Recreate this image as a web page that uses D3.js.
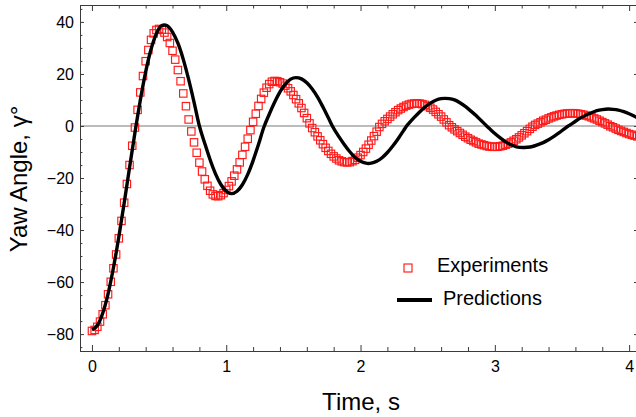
<!DOCTYPE html>
<html>
<head>
<meta charset="utf-8">
<script src="https://cdn.jsdelivr.net/npm/d3@7"></script>
<style>
  html, body { margin: 0; padding: 0; background: #fff; }
  svg { display: block; font-family: "Liberation Sans", Arial, Helvetica, sans-serif; }
</style>
</head>
<body>
<svg id="chart" width="636" height="417"></svg>
<script>
// Measured yaw response, sampled every 0.02 s from t = 0
const expStep = 0.02;
const expYaw = [
  -78.8, -78.4, -77.2, -75.2, -72.4, -68.9, -64.7, -59.9, -54.7, -49.4,
  -43.2, -36.5, -29.5, -22.3, -15.0, -7.6, -0.6, 6.2, 12.9, 19.2,
  24.9, 29.2, 33.1, 35.6, 36.9, 37.3, 37.0, 35.9, 34.2, 31.9,
  28.9, 25.5, 21.5, 17.2, 12.5, 7.6, 2.5, -2.1, -6.3, -10.3,
  -14.1, -17.5, -20.5, -23.0, -24.9, -26.3, -26.9, -27.0, -26.6, -25.8,
  -24.6, -23.1, -21.3, -19.1, -16.7, -14.0, -11.1, -8.0, -4.9, -1.6,
  1.6, 4.7, 7.7, 10.4, 12.8, 14.7, 16.1, 17.0, 17.3, 17.2,
  16.8, 16.3, 15.5, 14.5, 13.3, 11.9, 10.3, 8.7, 6.9, 5.0,
  3.0, 1.0, -0.8, -2.4, -4.0, -5.5, -7.0, -8.4, -9.6, -10.7,
  -11.7, -12.5, -13.2, -13.6, -13.9, -14.0, -13.9, -13.5, -13.0, -12.2,
  -11.2, -10.0, -8.7, -7.2, -5.6, -3.9, -2.2, -0.4, 0.8, 1.8,
  2.7, 3.6, 4.5, 5.3, 6.1, 6.7, 7.3, 7.8, 8.2, 8.5,
  8.6, 8.7, 8.6, 8.4, 8.1, 7.6, 7.0, 6.3, 5.4, 4.5,
  3.6, 2.5, 1.4, 0.3, -0.5, -1.3, -2.0, -2.7, -3.4, -4.1,
  -4.7, -5.3, -5.8, -6.3, -6.8, -7.1, -7.4, -7.7, -7.9, -8.0,
  -8.0, -8.0, -7.8, -7.6, -7.2, -6.8, -6.3, -5.7, -5.1, -4.4,
  -3.6, -2.8, -2.0, -1.1, -0.3, 0.4, 0.9, 1.4, 2.0, 2.4,
  2.9, 3.3, 3.7, 4.0, 4.3, 4.5, 4.7, 4.8, 4.9, 4.9,
  4.8, 4.7, 4.5, 4.3, 4.0, 3.7, 3.3, 2.9, 2.5, 2.0,
  1.5, 1.0, 0.5, -0.1, -0.5, -1.0, -1.5, -1.9, -2.3, -2.7,
  -3.1, -3.4, -3.7, -4.0
];

// Predicted yaw response (time in s, angle in degrees)
const predTime = [
  0, 0.04, 0.08, 0.12, 0.16, 0.20, 0.24, 0.28, 0.32, 0.36,
  0.40, 0.44, 0.48, 0.52, 0.538, 0.56, 0.60, 0.64, 0.68, 0.72,
  0.76, 0.80, 0.84, 0.88, 0.92, 0.96, 1.00, 1.04, 1.08, 1.12,
  1.16, 1.20, 1.24, 1.28, 1.32, 1.36, 1.40, 1.44, 1.48, 1.519,
  1.56, 1.60, 1.64, 1.68, 1.72, 1.76, 1.79, 1.84, 1.88, 1.92,
  1.96, 2.00, 2.04, 2.058, 2.08, 2.12, 2.16, 2.20, 2.24, 2.28,
  2.32, 2.343, 2.36, 2.40, 2.44, 2.48, 2.52, 2.56, 2.60, 2.628,
  2.66, 2.70, 2.74, 2.78, 2.82, 2.86, 2.90, 2.939, 2.96, 3.00,
  3.04, 3.08, 3.12, 3.16, 3.21, 3.24, 3.28, 3.32, 3.36, 3.40,
  3.44, 3.48, 3.52, 3.547, 3.56, 3.60, 3.64, 3.68, 3.72, 3.76,
  3.80, 3.845, 3.88, 3.92, 3.96, 4.00, 4.04, 4.08
];
const predYaw = [
  -78.3, -76.7, -72.0, -64.5, -54.5, -42.7, -29.6, -16.0, -2.6, 9.9,
  20.8, 29.5, 35.5, 38.6, 38.8, 38.5, 36.1, 31.8, 25.6, 17.9,
  9.2, 0.0, -6.7, -13.0, -18.4, -22.5, -25.1, -26.0, -25.1, -22.6,
  -18.6, -13.3, -7.1, -0.5, 4.5, 9.1, 13.1, 16.1, 18.0, 18.6,
  18.1, 16.6, 14.2, 11.1, 7.3, 3.2, 0.0, -4.2, -7.2, -9.9,
  -12.1, -13.6, -14.3, -14.4, -14.3, -13.6, -12.2, -10.2, -7.7, -4.9,
  -1.8, 0.0, 1.0, 3.3, 5.4, 7.3, 8.8, 9.9, 10.5, 10.6,
  10.5, 10.0, 8.9, 7.5, 5.8, 4.0, 2.0, 0.0, -1.0, -2.9,
  -4.6, -6.1, -7.2, -8.0, -8.3, -8.2, -7.9, -7.2, -6.4, -5.3,
  -4.0, -2.6, -1.0, 0.0, 0.4, 1.8, 3.1, 4.2, 5.1, 5.9,
  6.3, 6.5, 6.4, 6.1, 5.5, 4.7, 3.7, 2.6
];

// Tick values
const xMajorTicks = [0, 1, 2, 3, 4];
const xMinorTicks = [0.2, 0.4, 0.6, 0.8, 1.2, 1.4, 1.6, 1.8, 2.2, 2.4, 2.6, 2.8, 3.2, 3.4, 3.6, 3.8];
const yMajorTicks = [-80, -60, -40, -20, 0, 20, 40];
const yMinorTicks = [-85, -75, -70, -65, -55, -50, -45, -35, -30, -25, -15, -10, -5, 5, 10, 15, 25, 30, 35, 45];

const legendLabels = ["Experiments", "Predictions"];

const svg = d3.select("#chart");
const frame = { left: 80, right: 638, top: 5, bottom: 351 };
const frameColor = "#3a3a3a";

const x = d3.scaleLinear().domain([-0.089, 4.066]).range([frame.left, frame.right]);
const y = d3.scaleLinear().domain([-86.5, 46.5]).range([frame.bottom, frame.top]);

svg.append("rect").attr("width", 636).attr("height", 417).attr("fill", "#fff");

svg.append("defs").append("clipPath").attr("id", "plot-clip")
  .append("rect")
  .attr("x", frame.left).attr("y", frame.top)
  .attr("width", frame.right - frame.left).attr("height", frame.bottom - frame.top);

const plot = svg.append("g").attr("clip-path", "url(#plot-clip)");

// zero reference line
plot.append("line")
  .attr("x1", frame.left).attr("x2", frame.right)
  .attr("y1", y(0)).attr("y2", y(0))
  .attr("stroke", "#7a7a7a").attr("stroke-width", 1.1);

// experimental samples as open squares
const sq = 7.4;
plot.append("g")
  .selectAll("rect")
  .data(expYaw)
  .join("rect")
  .attr("x", (d, i) => x(i * expStep) - sq / 2)
  .attr("y", d => y(d) - sq / 2)
  .attr("width", sq).attr("height", sq)
  .attr("fill", "none")
  .attr("stroke", "#ff1a1a")
  .attr("stroke-width", 1.15);

// prediction curve
const line = d3.line()
  .x(d => x(d[0]))
  .y(d => y(d[1]))
  .curve(d3.curveMonotoneX);

plot.append("path")
  .datum(d3.zip(predTime, predYaw))
  .attr("d", line)
  .attr("fill", "none")
  .attr("stroke", "#000")
  .attr("stroke-width", 3.4)
  .attr("stroke-linejoin", "round");

// frame ticks
function styleAxis(g, showText) {
  g.select(".domain").remove();
  g.attr("color", frameColor);
  g.selectAll(".tick line").attr("stroke-width", 1);
  g.selectAll("text")
    .attr("fill", "#000")
    .attr("font-size", 16)
    .attr("font-family", "'Liberation Sans', Arial, sans-serif");
  if (!showText) g.selectAll("text").remove();
}

svg.append("g")
  .attr("transform", `translate(0,${frame.bottom})`)
  .call(d3.axisBottom(x).tickValues(xMajorTicks).tickSize(-6).tickPadding(10).tickFormat(d3.format("d")))
  .call(g => styleAxis(g, true));
svg.append("g")
  .attr("transform", `translate(0,${frame.bottom})`)
  .call(d3.axisBottom(x).tickValues(xMinorTicks).tickSize(-4))
  .call(g => styleAxis(g, false));
svg.append("g")
  .attr("transform", `translate(0,${frame.top})`)
  .call(d3.axisTop(x).tickValues(xMajorTicks).tickSize(-6))
  .call(g => styleAxis(g, false));
svg.append("g")
  .attr("transform", `translate(0,${frame.top})`)
  .call(d3.axisTop(x).tickValues(xMinorTicks).tickSize(-3.5))
  .call(g => styleAxis(g, false));

svg.append("g")
  .attr("transform", `translate(${frame.left},0)`)
  .call(d3.axisLeft(y).tickValues(yMajorTicks).tickSize(-4).tickPadding(6).tickFormat(d3.format("d")))
  .call(g => styleAxis(g, true));
svg.append("g")
  .attr("transform", `translate(${frame.left},0)`)
  .call(d3.axisLeft(y).tickValues(yMinorTicks).tickSize(-2.4))
  .call(g => styleAxis(g, false));
svg.append("g")
  .attr("transform", `translate(${frame.right},0)`)
  .call(d3.axisRight(y).tickValues(yMajorTicks).tickSize(-4))
  .call(g => styleAxis(g, false));

// frame
svg.append("rect")
  .attr("x", frame.left + 0.5).attr("y", frame.top + 0.5)
  .attr("width", frame.right - frame.left).attr("height", frame.bottom - frame.top)
  .attr("fill", "none").attr("stroke", frameColor).attr("stroke-width", 1);

// axis titles
svg.append("text")
  .attr("x", 361).attr("y", 410)
  .attr("text-anchor", "middle")
  .attr("font-size", 24)
  .attr("fill", "#000")
  .text("Time, s");

svg.append("text")
  .attr("transform", "translate(27,179) rotate(-90)")
  .attr("text-anchor", "middle")
  .attr("font-size", 24)
  .attr("fill", "#000")
  .text("Yaw Angle, γ°");

// legend
const legend = svg.append("g");
legend.append("rect")
  .attr("x", 408 - sq / 2 - 0.3).attr("y", 268 - sq / 2 - 0.3)
  .attr("width", sq + 0.6).attr("height", sq + 0.6)
  .attr("fill", "none").attr("stroke", "#ff1a1a").attr("stroke-width", 1.15);
legend.append("text")
  .attr("x", 437).attr("y", 272)
  .attr("font-size", 20).attr("fill", "#000")
  .text(legendLabels[0]);
legend.append("line")
  .attr("x1", 397).attr("x2", 432).attr("y1", 300).attr("y2", 300)
  .attr("stroke", "#000").attr("stroke-width", 3.8);
legend.append("text")
  .attr("x", 443).attr("y", 305)
  .attr("font-size", 20).attr("fill", "#000")
  .text(legendLabels[1]);
</script>
</body>
</html>
